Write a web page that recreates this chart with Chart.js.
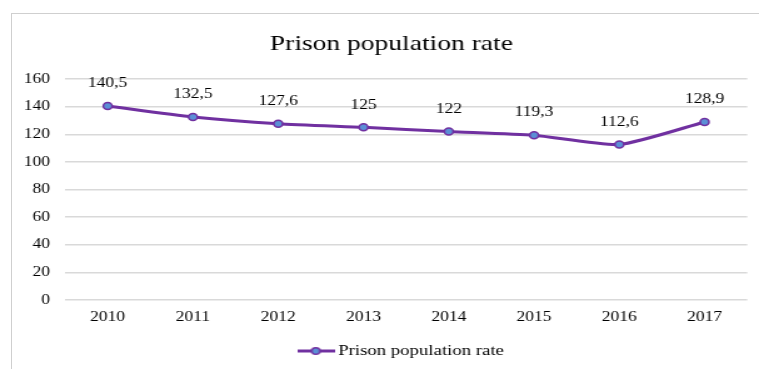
<!DOCTYPE html>
<html>
<head>
<meta charset="utf-8">
<script src="https://cdn.jsdelivr.net/npm/chart.js@4"></script>
<style>
  body { margin: 0; background: #fff; }
  .frame {
    position: absolute; left: 11px; top: 13px;
    width: 800px; height: 400px;
    border-left: 1.5px solid #cfcfcf; border-top: 1.5px solid #cfcfcf;
  }
  #chart { position: absolute; left: 0; top: 0; }
</style>
</head>
<body>
<div class="frame"></div>
<canvas id="chart" width="607" height="369" style="width:759px;height:369px"></canvas>
<script>
const years = ["2010", "2011", "2012", "2013", "2014", "2015", "2016", "2017"];
const rates = [140.5, 132.5, 127.6, 125, 122, 119.3, 112.6, 128.9];
const seriesName = "Prison population rate";
const chartTitle = "Prison population rate";

const purple = "#7030A0";
const blue = "#5B8FD6";
const serif = "'Liberation Serif', 'Times New Roman', serif";

// legend marker: line with a dot in the middle
const marker = document.createElement("canvas");
marker.width = 30;
marker.height = 10;
(function () {
  const c = marker.getContext("2d");
  c.strokeStyle = purple;
  c.lineWidth = 3;
  c.beginPath();
  c.moveTo(0, 5);
  c.lineTo(30, 5);
  c.stroke();
  c.beginPath();
  c.arc(15, 5, 3.3, 0, Math.PI * 2);
  c.fillStyle = blue;
  c.fill();
  c.lineWidth = 1.5;
  c.stroke();
})();

const titlePlugin = {
  id: "titleText",
  afterLayout(chart) {
    // legend sits a bit right of the canvas centre in the original
    chart.legend.left += 18.7;
    chart.legend.right += 18.7;
  },
  afterDraw(chart) {
    const ctx = chart.ctx;
    ctx.save();
    ctx.font = "22px " + serif;
    ctx.fillStyle = "#000";
    ctx.textAlign = "center";
    ctx.textBaseline = "middle";
    ctx.fillText(chartTitle, 313, 44);
    ctx.restore();
  },
};

const valueLabels = {
  id: "valueLabels",
  afterDatasetsDraw(chart) {
    const ctx = chart.ctx;
    const meta = chart.getDatasetMeta(0);
    ctx.save();
    ctx.font = "14px " + serif;
    ctx.fillStyle = "#000";
    ctx.textAlign = "center";
    ctx.textBaseline = "middle";
    meta.data.forEach((pt, i) => {
      const txt = String(rates[i]).replace(".", ",");
      ctx.fillText(txt, pt.x, pt.y - 22.5);
    });
    ctx.restore();
  },
};

new Chart(document.getElementById("chart").getContext("2d"), {
  type: "line",
  data: {
    labels: years,
    datasets: [
      {
        label: seriesName,
        data: rates,
        borderColor: purple,
        borderWidth: 3,
        backgroundColor: blue,
        pointBackgroundColor: blue,
        pointBorderColor: purple,
        pointBorderWidth: 1.5,
        pointRadius: 3.5,
        tension: 0.2,
        fill: false,
      },
    ],
  },
  options: {
    responsive: false,
    animation: false,
    layout: { padding: { left: 10, right: 9.4, top: 79, bottom: 0.5 } },
    plugins: {
      title: { display: false },
      tooltip: { enabled: false },
      legend: {
        position: "bottom",
        labels: {
          usePointStyle: true,
          pointStyleWidth: 21,
          padding: 10,
          color: "#000",
          font: { family: serif, size: 15 },
          generateLabels: (chart) =>
            Chart.defaults.plugins.legend.labels.generateLabels(chart).map((l) => {
              l.pointStyle = marker;
              return l;
            }),
        },
      },
    },
    scales: {
      x: {
        offset: true,
        grid: { display: false },
        border: { display: false },
        ticks: { color: "#000", padding: 1, font: { family: serif, size: 14 } },
        afterFit: (scale) => { scale.height = 33.5; },
      },
      y: {
        min: 0,
        max: 160,
        grid: { color: "#d9d9d9", drawTicks: false, lineWidth: 1.5 },
        border: { display: false },
        ticks: { stepSize: 20, color: "#000", padding: 12, font: { family: serif, size: 14 } },
        afterFit: (scale) => { scale.width = 42; },
      },
    },
  },
  plugins: [titlePlugin, valueLabels],
});
</script>
</body>
</html>
